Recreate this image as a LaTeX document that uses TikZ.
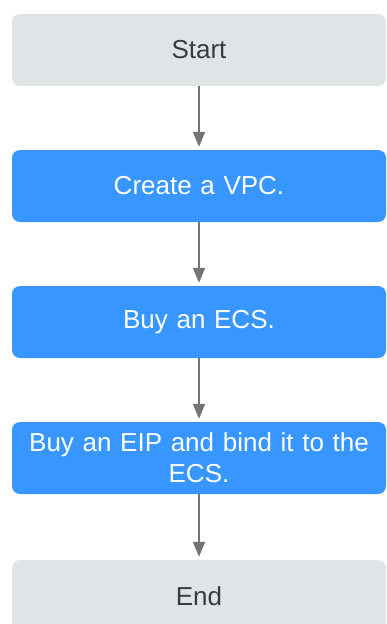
\documentclass[tikz,border=0pt]{standalone}
\usepackage{fontspec}
\setmainfont{Liberation Sans}
\usetikzlibrary{arrows.meta,positioning}

\definecolor{stepblue}{HTML}{3796FF}
\definecolor{termgray}{HTML}{E1E4E6}
\definecolor{arrowgray}{HTML}{747474}
\definecolor{termtext}{HTML}{3A3A44}

\begin{document}
\begin{tikzpicture}[x=1pt,y=1pt,node distance=136pt,on grid,shorten >=3pt,
	box/.style={rectangle,rounded corners=8pt,minimum width=374pt,minimum height=72pt,
		text width=360pt,align=center,inner sep=0pt,font=\fontsize{26}{31}\selectfont},
	term/.style={box,fill=termgray,text=termtext},
	task/.style={box,fill=stepblue,text=white},
	flow/.style={-{Triangle[length=15pt,width=12pt]},color=arrowgray,line width=2pt}]
	\useasboundingbox (0,0) rectangle (387,-624);
	\node[term] (start) at (199,-50) {Start};
	\node[task, below = of start] (vpc) {Create a VPC.};
	\node[task, below = of vpc] (ecs) {Buy an ECS.};
	\node[task, below = of ecs] (eip) {Buy an EIP and bind it to the\\ECS.};
	\node[term, below = 138pt of eip] (end) {End};
	
	\path[flow] (start) edge (vpc)
		(vpc) edge (ecs)
		(ecs) edge (eip)
		(eip) edge (end);
\end{tikzpicture}
\end{document}
